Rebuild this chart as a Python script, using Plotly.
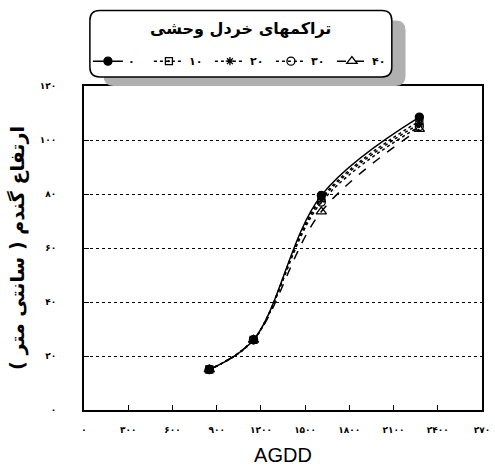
import plotly.graph_objects as go

agdd = [850, 1150, 1610, 2275]
s0 = [15, 26, 79.5, 108.5]
s10 = [15, 26, 78.5, 107]
s20 = [15, 26, 78, 106]
s30 = [15, 26, 77, 105]
s40 = [15, 26, 73.5, 104]
series_names = ["۰", "۱۰", "۲۰", "۳۰", "۴۰"]
x_ticks = [0, 300, 600, 900, 1200, 1500, 1800, 2100, 2400, 2700]
x_ticktext = ["۰", "۳۰۰", "۶۰۰", "۹۰۰", "۱۲۰۰", "۱۵۰۰", "۱۸۰۰", "۲۱۰۰", "۲۴۰۰", "۲۷۰"]
y_ticks = [0, 20, 40, 60, 80, 100, 120]
y_ticktext = ["۰", "۲۰", "۴۰", "۶۰", "۸۰", "۱۰۰", "۱۲۰"]
legend_title = "تراکمهای خردل وحشی"
y_title = "ارتفاع گندم ( سانتی متر )"
x_title = "AGDD"

styles = [
    dict(symbol="circle", dash="solid", size=8),
    dict(symbol="square-open-dot", dash="dot", size=7),
    dict(symbol="asterisk-open", dash="dot", size=7),
    dict(symbol="circle-open", dash="dot", size=8),
    dict(symbol="triangle-up-open", dash="dash", size=9),
]

fig = go.Figure()
for name, ys, st in zip(series_names, [s0, s10, s20, s30, s40], styles):
    fig.add_trace(go.Scatter(
        x=agdd, y=ys, name=name, mode="lines+markers",
        line=dict(color="black", width=1.5, dash=st["dash"], shape="spline", smoothing=1.0),
        marker=dict(symbol=st["symbol"], size=st["size"], color="black",
                    line=dict(color="black", width=1.3)),
    ))

L, R, T, B = 84, 5, 86, 56
W, H = 495, 468
pw, ph = W - L - R, H - T - B

def px(x):
    return (x - L) / pw

def py(y):
    return (H - B - y) / ph

def rounded(x0, y0, x1, y1, r):
    rx = r / pw
    ry = r / ph
    X0, X1 = px(x0), px(x1)
    Y0, Y1 = py(y0), py(y1)
    return (f"M {X0+rx},{Y0} L {X1-rx},{Y0} Q {X1},{Y0} {X1},{Y0-ry} "
            f"L {X1},{Y1+ry} Q {X1},{Y1} {X1-rx},{Y1} L {X0+rx},{Y1} "
            f"Q {X0},{Y1} {X0},{Y1+ry} L {X0},{Y0-ry} Q {X0},{Y0} {X0+rx},{Y0} Z")

shapes = [
    dict(type="path", xref="paper", yref="paper", path=rounded(104, 20, 412, 86, 10),
         fillcolor="#b0b0b0", line=dict(width=0), layer="above"),
    dict(type="path", xref="paper", yref="paper", path=rounded(90, 10, 398, 77, 10),
         fillcolor="white", line=dict(color="black", width=1.5), layer="above"),
]

fig.update_layout(
    width=W, height=H,
    margin=dict(l=L, r=R, t=T, b=B),
    paper_bgcolor="white", plot_bgcolor="white",
    font=dict(family="DejaVu Sans", color="black"),
    shapes=shapes,
    showlegend=True,
    legend=dict(orientation="h", x=px(88), y=py(61), xanchor="left", yanchor="middle",
                bgcolor="rgba(0,0,0,0)", font=dict(size=11, family="DejaVu Sans", weight="bold"),
                entrywidth=16, entrywidthmode="pixels", itemwidth=30, tracegroupgap=0),
    annotations=[dict(text=f"<b>{legend_title}</b>", xref="paper", yref="paper",
                      x=px(244), y=py(28), xanchor="center", yanchor="middle", showarrow=False,
                      font=dict(size=16, family="DejaVu Sans"))],
    xaxis=dict(range=[0, 2700], tickvals=x_ticks, ticktext=x_ticktext,
               ticks="inside", ticklen=5, tickcolor="black",
               showgrid=False, zeroline=False,
               showline=True, linecolor="black", linewidth=2, mirror=True,
               ticklabelstandoff=10, ticklabeloverflow="allow",
               tickfont=dict(size=9, family="DejaVu Sans", weight="bold"),
               title=dict(text=x_title, font=dict(size=20, family="Liberation Sans"), standoff=14)),
    yaxis=dict(range=[0, 120], tickvals=y_ticks, ticktext=y_ticktext,
               ticks="inside", ticklen=5, tickcolor="black",
               showgrid=True, gridcolor="black", griddash="dot", gridwidth=1,
               zeroline=False,
               showline=True, linecolor="black", linewidth=2, mirror=True,
               ticklabelstandoff=24, ticklabeloverflow="allow",
               tickfont=dict(size=9, family="DejaVu Sans", weight="bold"),
               title=dict(text=f"<b>{y_title}</b>", font=dict(size=19, family="DejaVu Sans"), standoff=10)),
)

fig.write_html("out.html", config={"displayModeBar": False},
               post_script="document.body.style.margin='0';")
